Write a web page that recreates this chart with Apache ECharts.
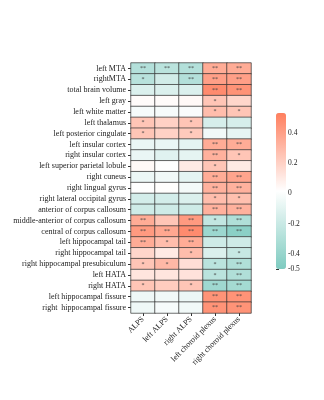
<!DOCTYPE html>
<html>
<head>
<meta charset="utf-8">
<script src="https://cdn.jsdelivr.net/npm/echarts@6/dist/echarts.min.js"></script>
<style>
    html, body { margin: 0; padding: 0; background: #fff; }
    #main { width: 324px; height: 400px; }
</style>
</head>
<body>
<div id="main"></div>
<script>
    // 列：ALPS 与脉络丛
    const columns = ['ALPS', 'left ALPS', 'right ALPS', 'left choroid plexus', 'right choroid plexus'];
    // 行：脑区
    const regions = [
        'left MTA', 'rightMTA', 'total brain volume', 'left gray', 'left white matter',
        'left thalamus', 'left posterior cingulate', 'left insular cortex', 'right insular cortex',
        'left superior parietal lobule', 'right cuneus', 'right lingual gyrus',
        'right lateral occipital gyrus', 'anterior of corpus callosum',
        'middle-anterior of corpus callosum', 'central of corpus callosum',
        'left hippocampal tail', 'right hippocampal tail', 'right hippocampal presubiculum',
        'left HATA', 'right HATA', 'left hippocampal fissure', 'right  hippocampal fissure'
    ];
    // 相关系数 (每行 5 列)
    const corrValues = [
        [-0.29, -0.26, -0.29, 0.35, 0.35],
        [-0.27, -0.17, -0.29, 0.40, 0.40],
        [-0.13, -0.13, -0.13, 0.48, 0.45],
        [0.03, 0.03, 0.04, 0.25, 0.18],
        [-0.02, -0.02, -0.01, 0.28, 0.25],
        [0.25, 0.20, 0.25, -0.15, -0.15],
        [0.25, 0.20, 0.23, -0.04, -0.08],
        [-0.07, -0.07, -0.09, 0.35, 0.35],
        [-0.07, -0.11, -0.09, 0.33, 0.25],
        [0.04, 0.01, 0.10, 0.25, 0.10],
        [-0.06, -0.04, -0.09, 0.35, 0.38],
        [0.01, 0.02, -0.03, 0.33, 0.33],
        [-0.16, -0.16, -0.13, 0.28, 0.27],
        [-0.18, -0.18, -0.18, 0.33, 0.33],
        [0.35, 0.25, 0.42, -0.23, -0.30],
        [0.42, 0.37, 0.48, -0.38, -0.45],
        [0.35, 0.28, 0.35, -0.18, -0.18],
        [0.18, 0.10, 0.28, -0.13, -0.21],
        [0.25, 0.30, 0.15, -0.26, -0.30],
        [0.12, 0.12, 0.13, -0.26, -0.30],
        [0.25, 0.22, 0.25, -0.37, -0.35],
        [-0.05, -0.04, -0.06, 0.45, 0.45],
        [-0.05, -0.02, -0.04, 0.45, 0.45]
    ];
    // 显著性标记
    const stars = [
        ['**', '**', '**', '**', '**'],
        ['*', '', '**', '**', '**'],
        ['', '', '', '**', '**'],
        ['', '', '', '*', ''],
        ['', '', '', '*', '*'],
        ['*', '', '*', '', ''],
        ['*', '', '*', '', ''],
        ['', '', '', '**', '**'],
        ['', '', '', '**', '*'],
        ['', '', '', '*', ''],
        ['', '', '', '**', '**'],
        ['', '', '', '**', '**'],
        ['', '', '', '*', '*'],
        ['', '', '', '**', '**'],
        ['**', '', '**', '*', '**'],
        ['**', '**', '**', '**', '**'],
        ['**', '*', '**', '', ''],
        ['', '', '*', '', '*'],
        ['*', '*', '', '*', '**'],
        ['', '', '', '*', '**'],
        ['*', '', '*', '**', '**'],
        ['', '', '', '**', '**'],
        ['', '', '', '**', '**']
    ];
    // 色条刻度
    const legendTicks = [-0.5, -0.4, -0.2, 0, 0.2, 0.4];
    const legendMin = -0.5;
    const legendMax = 0.53;

    let heatData = [];
    for (let r = 0; r < regions.length; r++) {
        for (let c = 0; c < columns.length; c++) {
            heatData.push([c, r, corrValues[r][c], stars[r][c]]);
        }
    }

    const font = "'Liberation Serif', 'DejaVu Serif', serif";

    let myChart = echarts.init(document.getElementById('main'));
    let option = {
        backgroundColor: '#ffffff',
        animation: false,
        grid: [
            { left: 131, top: 63, width: 120, height: 250 },
            // 色条刻度
            { left: 276, top: 113, width: 10, height: 156 }
        ],
        xAxis: [
            {
                gridIndex: 0,
                type: 'category',
                data: columns,
                axisLine: { show: false },
                axisTick: { show: true, alignWithLabel: true, length: 3, lineStyle: { color: '#333' } },
                axisLabel: { rotate: 45, fontSize: 8, color: '#222', fontFamily: font, margin: 5, interval: 0 },
                splitLine: { show: false }
            },
            {
                gridIndex: 1,
                type: 'value',
                show: false
            }
        ],
        yAxis: [
            {
                gridIndex: 0,
                type: 'category',
                data: regions,
                inverse: true,
                axisLine: { show: false },
                axisTick: { show: true, alignWithLabel: true, length: 3, lineStyle: { color: '#333' } },
                axisLabel: { fontSize: 8, color: '#222', fontFamily: font, margin: 5, interval: 0 },
                splitLine: { show: false }
            },
            {
                gridIndex: 1,
                type: 'value',
                position: 'right',
                min: legendMin,
                max: legendMax,
                axisLine: { show: false },
                splitLine: { show: false },
                axisTick: {
                    show: true, length: 3, customValues: legendTicks,
                    lineStyle: { color: '#333' }
                },
                axisLabel: {
                    customValues: legendTicks,
                    fontSize: 7.5, color: '#222', fontFamily: font, margin: 2
                }
            }
        ],
        visualMap: {
            type: 'continuous',
            min: legendMin,
            max: legendMax,
            dimension: 2,
            seriesIndex: 0,
            calculable: false,
            orient: 'vertical',
            left: 276,
            top: 113,
            padding: 0,
            itemWidth: 10,
            itemHeight: 156,
            text: null,
            showLabel: false,
            inRange: { color: ['#7ecbc0', '#ffffff', '#ff7f5e'] }
        },
        series: [
            {
                type: 'heatmap',
                xAxisIndex: 0,
                yAxisIndex: 0,
                data: heatData,
                itemStyle: { borderColor: 'rgba(50,50,50,0.7)', borderWidth: 1 },
                label: {
                    show: true,
                    fontSize: 6,
                    color: '#444',
                    fontFamily: font,
                    formatter: function (p) { return p.data[3]; }
                },
                emphasis: { disabled: true }
            }
        ]
    };
    myChart.setOption(option);
</script>
</body>
</html>
